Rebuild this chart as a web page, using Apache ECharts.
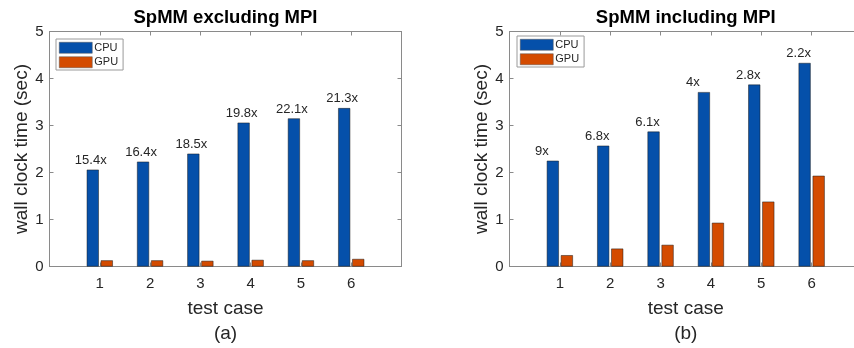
<!DOCTYPE html>
<html>
<head>
<meta charset="utf-8">
<title>SpMM CPU vs GPU</title>
<script src="https://cdn.jsdelivr.net/npm/echarts@6/dist/echarts.min.js"></script>
<style>
  html, body { margin: 0; padding: 0; background: #fff; }
  #chart { width: 854px; height: 348px; }
</style>
</head>
<body>
<div id="chart"></div>
<script>
// test cases on the x axis
const cases = [1, 2, 3, 4, 5, 6];
const yTicks = [0, 1, 2, 3, 4, 5];

// (a) SpMM excluding MPI, seconds
const cpuExcl = [2.06, 2.23, 2.40, 3.06, 3.15, 3.37];
const gpuExcl = [0.13, 0.13, 0.12, 0.14, 0.13, 0.16];
const speedupExcl = ['15.4x', '16.4x', '18.5x', '19.8x', '22.1x', '21.3x'];

// (b) SpMM including MPI, seconds
const cpuIncl = [2.25, 2.57, 2.87, 3.71, 3.87, 4.33];
const gpuIncl = [0.24, 0.38, 0.46, 0.93, 1.38, 1.93];
const speedupIncl = ['9x', '6.8x', '6.1x', '4x', '2.8x', '2.2x'];

const panels = [
  { title: 'SpMM excluding MPI', tag: '(a)', cpu: cpuExcl, gpu: gpuExcl, labels: speedupExcl,
    grid: { left: 49.5, top: 31.5, width: 352, height: 235 }, legendPos: { left: 56, top: 39 }, rightEdge: true },
  { title: 'SpMM including MPI', tag: '(b)', cpu: cpuIncl, gpu: gpuIncl, labels: speedupIncl,
    grid: { left: 509.5, top: 31.5, width: 352.5, height: 235 }, legendPos: { left: 517, top: 36 }, rightEdge: false }
];

const BLUE = '#0550aa';
const ORANGE = '#d44b00';
const AXIS = '#8a8a8a';
const TEXT = '#262626';
const FONT = 'Liberation Sans, Arial, Helvetica, sans-serif';

const chart = echarts.init(document.getElementById('chart'), null, { renderer: 'canvas' });

const grids = [], xAxes = [], yAxes = [], series = [], legends = [], graphics = [];

panels.forEach((p, i) => {
  // keep the box exactly where the figure has it, even past the right edge
  grids.push(Object.assign({ containLabel: false, outerBoundsMode: 'none' }, p.grid));

  const axisLine = { show: true, onZero: false, lineStyle: { color: AXIS, width: 1 } };
  const axisTick = { show: true, inside: true, length: 4, lineStyle: { color: AXIS } };

  // bottom and top x axes (box look)
  xAxes.push({
    gridIndex: i, type: 'value', min: 0, max: 7, interval: 1, position: 'bottom',
    axisLine, axisTick, splitLine: { show: false },
    axisLabel: { margin: 10, fontSize: 15, color: TEXT, fontFamily: FONT,
      formatter: v => (cases.includes(v) ? String(v) : '') },
    name: 'test case', nameLocation: 'middle', nameGap: 33,
    nameTextStyle: { fontSize: 19, color: TEXT, fontFamily: FONT }
  });
  xAxes.push({
    gridIndex: i, type: 'value', min: 0, max: 7, interval: 1, position: 'top',
    axisLine, axisTick, axisLabel: { show: false }, splitLine: { show: false }
  });

  yAxes.push({
    gridIndex: i, type: 'value', min: 0, max: 5, interval: 1, position: 'left',
    axisLine, axisTick, splitLine: { show: false },
    axisLabel: { margin: 6, fontSize: 15, color: TEXT, fontFamily: FONT,
      formatter: v => (yTicks.includes(v) ? String(v) : '') },
    name: 'wall clock time (sec)', nameLocation: 'middle', nameRotate: 90, nameGap: 17,
    nameTextStyle: { fontSize: 19, color: TEXT, fontFamily: FONT }
  });
  // right side of the box; panel (b) is cropped before it
  yAxes.push({
    gridIndex: i, type: 'value', min: 0, max: 5, interval: 1, position: 'right',
    axisLine: Object.assign({}, axisLine, { show: p.rightEdge }),
    axisTick: Object.assign({}, axisTick, { show: p.rightEdge }),
    axisLabel: { show: false }, splitLine: { show: false }
  });

  const cpuData = cases.map((c, k) => {
    const txt = p.labels[k];
    const dx = i === 0 ? -2 : (txt.length <= 2 ? -11 : -6);
    return { value: [c, p.cpu[k]], label: { offset: [dx, 0] } };
  });

  series.push({
    name: 'CPU', type: 'bar', xAxisIndex: i * 2, yAxisIndex: i * 2,
    barWidth: 12, barGap: '17%',
    itemStyle: { color: BLUE, borderColor: '#1a1a1a', borderWidth: 0.5 },
    label: {
      show: true, position: 'top', distance: 3, fontSize: 13, color: TEXT, fontFamily: FONT,
      formatter: prm => p.labels[prm.dataIndex]
    },
    data: cpuData
  });
  series.push({
    name: 'GPU', type: 'bar', xAxisIndex: i * 2, yAxisIndex: i * 2,
    barWidth: 12, barGap: '17%',
    itemStyle: { color: ORANGE, borderColor: '#1a1a1a', borderWidth: 0.5 },
    data: cases.map((c, k) => [c, p.gpu[k]])
  });

  legends.push(Object.assign({
    data: ['CPU', 'GPU'], orient: 'vertical', icon: 'rect',
    itemWidth: 33, itemHeight: 11, itemGap: 3, padding: [3, 5, 2, 3],
    itemStyle: { borderWidth: 0.5, borderColor: '#555' },
    backgroundColor: '#fff', borderColor: '#9a9a9a', borderWidth: 1, borderRadius: 0,
    textStyle: { fontSize: 11, color: TEXT, fontFamily: FONT, padding: [0, 0, 0, -3] },
    selectedMode: false
  }, p.legendPos));

  const cx = p.grid.left + p.grid.width / 2;
  graphics.push({
    type: 'text', x: cx, y: 18,
    style: { text: p.title, fill: '#000', font: 'bold 18.5px ' + FONT, textAlign: 'center', textVerticalAlign: 'middle' }
  });
  graphics.push({
    type: 'text', x: cx, y: 334,
    style: { text: p.tag, fill: TEXT, font: '19px ' + FONT, textAlign: 'center', textVerticalAlign: 'middle' }
  });
});

chart.setOption({
  backgroundColor: '#fff',
  animation: false,
  grid: grids,
  xAxis: xAxes,
  yAxis: yAxes,
  legend: legends,
  series,
  graphic: graphics
});
</script>
</body>
</html>
